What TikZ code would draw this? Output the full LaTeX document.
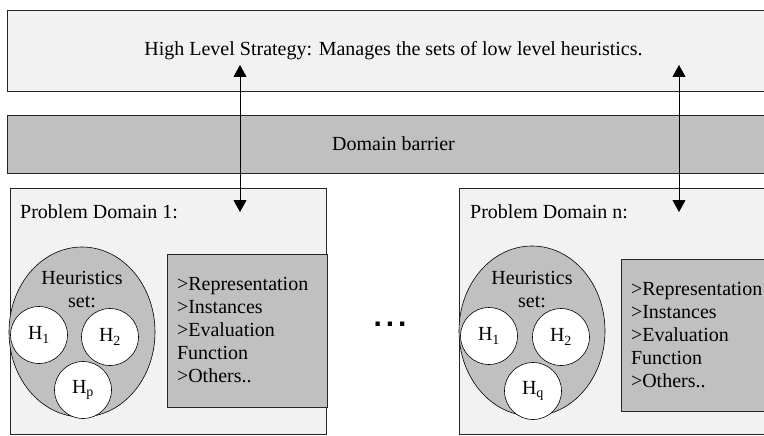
\documentclass[tikz,border=0pt]{standalone}
\usepackage{fontspec}
\setmainfont{Liberation Serif}
\setsansfont{Liberation Sans}
\usetikzlibrary{shapes.geometric,arrows.meta}
\definecolor{lightbox}{HTML}{F2F2F2}
\definecolor{darkbox}{HTML}{C0C0C0}
\begin{document}
\begin{tikzpicture}[x=1pt,y=-1pt]
    \tikzstyle{every node}=[font=\fontsize{20}{23}\selectfont]
    \tikzstyle{band}=[draw=black!85, line width=0.8pt, minimum width=773pt, inner sep=0pt]
    \tikzstyle{hset}=[ellipse, draw, line width=0.6pt, fill=darkbox, minimum width=146pt, minimum height=170pt]
    \tikzstyle{heur}=[circle, draw, line width=0.6pt, fill=white, minimum size=57pt, inner sep=0pt]
    \tikzstyle{info}=[draw=black!85, line width=0.8pt, fill=darkbox, align=left, inner xsep=10pt]
    \tikzstyle{link}=[{Triangle[length=12pt,width=13pt]}-{Triangle[length=12pt,width=13pt]}, line width=0.8pt]
    \def\tw{140pt}
    \useasboundingbox (0,0) rectangle (764,436);
    \node[band, fill=lightbox, minimum height=81pt] (hls) at (393.5,50.5) {High Level Strategy: Manages the sets of low level heuristics.};
    \node[band, fill=darkbox, minimum height=58pt] (barrier) at (393.5,144) {Domain barrier};
    % domain 1
    \filldraw[draw=black!85, line width=0.8pt, fill=lightbox] (10,188) rectangle (326,434.5);
    \node[anchor=west, inner sep=0pt] (pd1) at (20,212) {Problem Domain 1:};
    \node[hset] (set1) at (82,332) {};
    \node[align=center] (set1txt) at (82,290) {Heuristics\\set:};
    \node[heur] (h11) at (39,335) {H\textsubscript{1}};
    \node[heur] (h12) at (110,337) {H\textsubscript{2}};
    \node[heur] (h1p) at (83,390) {H\textsubscript{p}};
    \node[info, text width=\tw, minimum height=153pt] (info1) at (247,330.5) {>Representation\\>Instances\\>Evaluation\\Function\\>Others..};
    % domain n
    \filldraw[draw=black!85, line width=0.8pt, fill=lightbox] (459,188) rectangle (790,434.5);
    \node[anchor=west, inner sep=0pt] (pdn) at (470,212) {Problem Domain n:};
    \node[hset] (setn) at (532,331) {};
    \node[align=center] (setntxt) at (532,290) {Heuristics\\set:};
    \node[heur] (hn1) at (489,336) {H\textsubscript{1}};
    \node[heur] (hn2) at (561,337) {H\textsubscript{2}};
    \node[heur] (hnq) at (533,391) {H\textsubscript{q}};
    \node[info, text width=\tw, minimum height=152pt] (infon) at (701,335) {>Representation\\>Instances\\>Evaluation\\Function\\>Others..};
    \node[font=\fontsize{30}{30}\sffamily\bfseries, inner sep=0pt] (dots) at (390,324) {.\hspace{4pt}.\hspace{4pt}.};
    % links
    \coordinate (up1) at (240,65);
    \coordinate (dn1) at (240,212);
    \coordinate (upn) at (679,65);
    \coordinate (dnn) at (679,212);
    \draw[link] (dn1) -- (up1);
    \draw[link] (dnn) -- (upn);
\end{tikzpicture}
\end{document}
